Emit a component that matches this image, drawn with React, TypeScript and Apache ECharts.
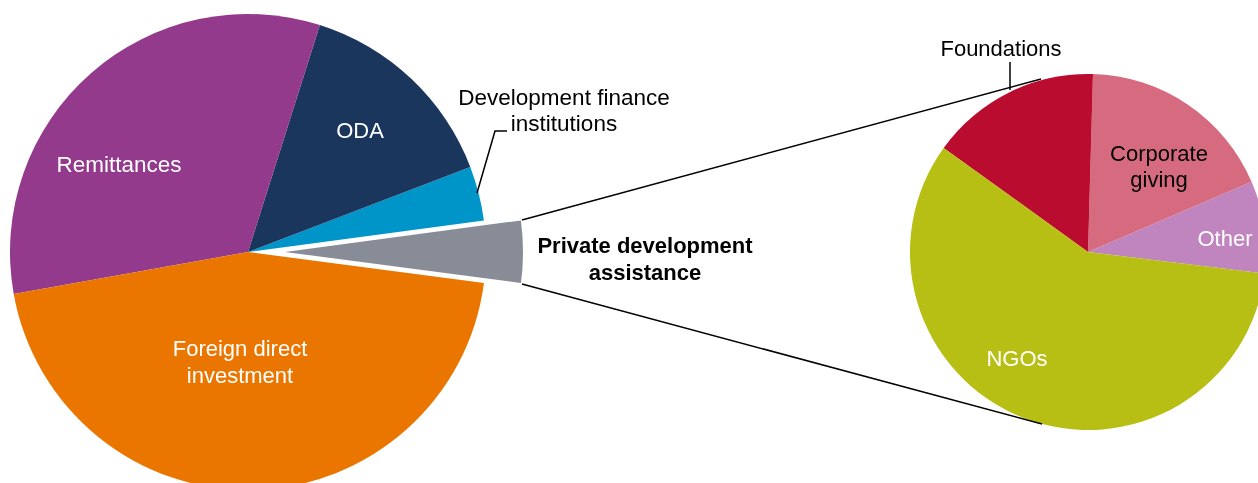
import React, { useEffect, useRef } from "react";
import * as echarts from "echarts";

// Left pie: share of flows (%), drawn counter-clockwise starting at PDA
const mainNames = ["Private development assistance", "Development finance institutions", "ODA", "Remittances", "Foreign direct investment"];
const mainValues = [4.2, 3.7, 14.3, 32.7, 45.1];
const mainColors = ["#878C96", "#0095C8", "#1B365D", "#943A8C", "#EA7600"];

// Right pie: breakdown of private development assistance (%)
const subNames = ["Other", "Corporate giving", "Foundations", "NGOs"];
const subValues = [8.4, 18.1, 15.5, 58.0];
const subColors = ["#C084BE", "#D66B80", "#BA0C2F", "#B8BF14"];

const FONT = "'Liberation Sans', Arial, Helvetica, sans-serif";

export default function App() {
  const ref = useRef<HTMLDivElement>(null);
  useEffect(() => {
    if (!ref.current) return;
    const chart = echarts.init(ref.current, null, { renderer: "svg" });
    const txt = (x: number, y: number, text: string, fill: string, size = 22, weight: any = "normal", lh = 26) => ({
      type: "text",
      x,
      y,
      z: 10,
      style: {
        text,
        fill,
        font: `${weight} ${size}px ${FONT}`,
        fontSize: size,
        fontWeight: weight,
        fontFamily: FONT,
        align: "center",
        verticalAlign: "middle",
        lineHeight: lh,
      },
    });
    chart.setOption({
      animation: false,
      series: [
        {
          type: "pie",
          center: [248, 252],
          radius: [0, 238],
          startAngle: -7.5,
          clockwise: false,
          selectedMode: "single",
          selectedOffset: 37,
          label: { show: false },
          labelLine: { show: false },
          emphasis: { disabled: true },
          silent: true,
          data: mainNames.map((n, i) => ({
            name: n,
            value: mainValues[i],
            selected: i === 0,
            itemStyle: { color: mainColors[i] },
          })),
        },
        {
          type: "pie",
          center: [1088, 252],
          radius: [0, 178],
          startAngle: -7,
          clockwise: false,
          label: { show: false },
          labelLine: { show: false },
          emphasis: { disabled: true },
          silent: true,
          data: subNames.map((n, i) => ({
            name: n,
            value: subValues[i],
            itemStyle: { color: subColors[i] },
          })),
        },
      ],
      graphic: [
        { type: "line", z: 10, shape: { x1: 522, y1: 220, x2: 1041, y2: 79 }, style: { stroke: "#000", lineWidth: 1.5 } },
        { type: "line", z: 10, shape: { x1: 522, y1: 284, x2: 1042, y2: 424 }, style: { stroke: "#000", lineWidth: 1.5 } },
        { type: "polyline", z: 10, shape: { points: [[477, 193], [495, 131], [507, 131]] }, style: { stroke: "#000", lineWidth: 1.5, fill: "none" } },
        { type: "line", z: 10, shape: { x1: 1010, y1: 62, x2: 1010, y2: 90 }, style: { stroke: "#000", lineWidth: 1.5 } },
        txt(564, 110, "Development finance\ninstitutions", "#000", 22.5),
        txt(119, 164, "Remittances", "#fff", 22.5),
        txt(360, 130, "ODA", "#fff"),
        txt(240, 361.5, "Foreign direct\ninvestment", "#fff", 22, "normal", 27),
        txt(645, 258.5, "Private development\nassistance", "#000", 22, "bold", 27),
        txt(1001, 48, "Foundations", "#000"),
        txt(1159, 166, "Corporate\ngiving", "#000"),
        txt(1225, 238, "Other", "#fff"),
        txt(1017, 358, "NGOs", "#fff"),
      ],
    });
    return () => chart.dispose();
  }, []);
  return <div ref={ref} style={{ position: "fixed", left: 0, top: 0, width: 1258, height: 483 }} />;
}
